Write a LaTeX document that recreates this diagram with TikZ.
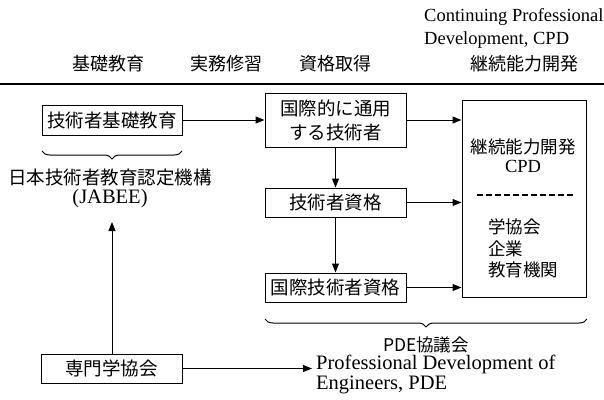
\documentclass[tikz,border=0pt]{standalone}
\usepackage{fontspec}
\setmainfont{Liberation Serif}
\newfontfamily\jp{Noto Sans CJK JP}
\usetikzlibrary{arrows.meta,decorations.pathreplacing}
\tikzset{
  box/.style={draw,line width=1pt,inner sep=0pt,font=\jp\fontsize{18.5}{24}\selectfont,align=center},
  jtext/.style={inner sep=0pt,font=\jp\fontsize{18}{21}\selectfont},
  jin/.style={inner sep=0pt,font=\jp\fontsize{17.5}{21}\selectfont},
  etop/.style={inner sep=0pt,font=\fontsize{18.5}{21}\selectfont},
  etext/.style={inner sep=0pt,font=\fontsize{20.5}{21}\selectfont},
  arr/.style={line width=1pt,-{Triangle[length=9pt,width=7pt]}},
  brc/.style={line width=1pt,decorate,decoration={brace,amplitude=8pt}},
}
\begin{document}
\begin{tikzpicture}[x=1pt,y=-1pt]
\useasboundingbox (0,0) rectangle (604,399);
% top headings
\node[etop,anchor=west] (cpdE1) at (424,17) {Continuing Professional};
\node[etop,anchor=west] (cpdE2) at (424,40) {Development, CPD};
\node[jtext] (h1) at (108,64) {基礎教育};
\node[jtext] (h2) at (226,64) {実務修習};
\node[jtext] (h3) at (335,64) {資格取得};
\node[jtext] (h4) at (524,64) {継続能力開発};
\coordinate (L1) at (0,84);
\coordinate (L2) at (604,84);
\draw[line width=1.8pt] (L1) -- (L2);
% boxes
\node[box,minimum width=140,minimum height=30] (kiso) at (112,120) {技術者基礎教育};
\node[box,minimum width=141,minimum height=54] (kokusai) at (335.5,120) {国際的に通用\\する技術者};
\node[box,minimum width=141,minimum height=29] (shikaku) at (335.5,202.5) {技術者資格};
\node[box,minimum width=141,minimum height=29] (kshikaku) at (335.5,287.5) {国際技術者資格};
\node[box,minimum width=124,minimum height=197] (cpd) at (524,198.5) {};
\node[box,minimum width=141,minimum height=29] (senmon) at (111.5,368.5) {専門学協会};
% contents of CPD box
\node[jin] (c1) at (523,147) {継続能力開発};
\node[etop] (c2) at (523,166) {CPD};
\coordinate (d1) at (477,195);
\coordinate (d2) at (575,195);
\draw[line width=1.3pt,dash pattern=on 6pt off 3pt] (d1) -- (d2);
\node[jin,anchor=west] (c3) at (488,227) {学協会};
\node[jin,anchor=west] (c4) at (488,249) {企業};
\node[jin,anchor=west] (c5) at (488,270) {教育機関};
% JABEE
\node[box,draw=none] (jabee1) at (110,178) {日本技術者教育認定機構};
\node[etext] (jabee2) at (110,199) {(JABEE)};
\coordinate (jabeeTip) at (112,222);
% PDE
\node[jin] (pde0) at (426,345) {PDE協議会};
\node[etext,anchor=west] (pde1) at (316,364) {Professional Development of};
\node[etext,anchor=west] (pde2) at (316,385) {Engineers, PDE};
% arrows
\draw[arr] (kiso.east) -- (kokusai.west |- kiso.east);
\draw[arr] (kokusai.east |- kiso.east) -- (cpd.west |- kiso.east);
\draw[arr] (kokusai.south) -- (shikaku.north);
\draw[arr] (shikaku.east) -- (cpd.west |- shikaku.east);
\draw[arr] (shikaku.south) -- (kshikaku.north);
\draw[arr] (kshikaku.east) -- (cpd.west |- kshikaku.east);
\draw[arr] (senmon.north -| jabeeTip) -- (jabeeTip);
\draw[arr] (senmon.east) -- ([xshift=-4pt]pde1.west |- senmon.east);
% braces
\coordinate (b1a) at (42,151);
\coordinate (b1b) at (182,151);
\draw[brc] (b1b) -- (b1a);
\coordinate (b2a) at (265,319);
\coordinate (b2b) at (587,319);
\draw[brc] (b2b) -- (b2a);
\end{tikzpicture}
\end{document}
